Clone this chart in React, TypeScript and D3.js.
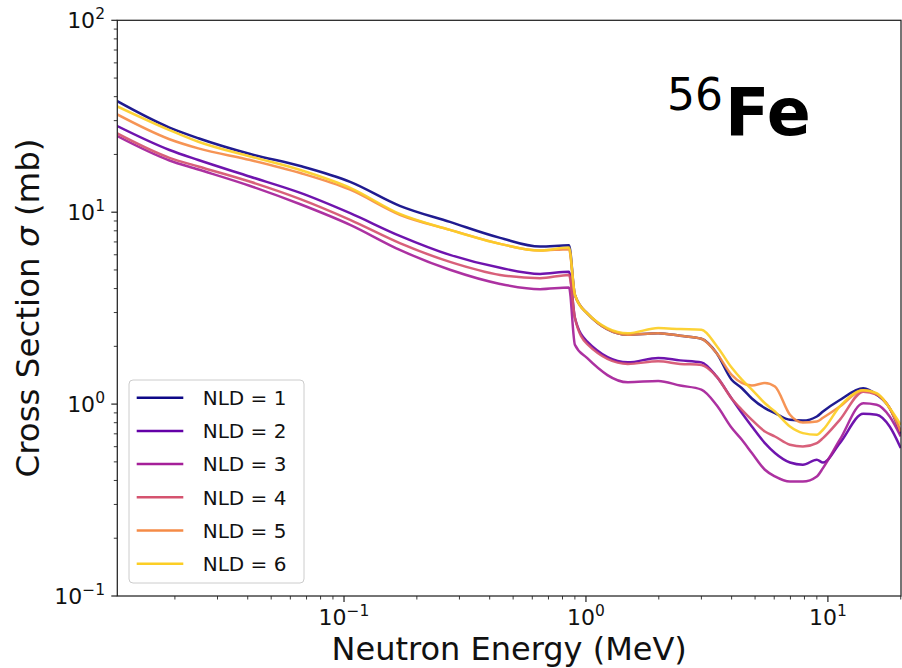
import React from "react";
import * as d3 from "d3";

const energies = [0.0115, 0.019, 0.025, 0.041, 0.066, 0.106, 0.17, 0.274, 0.442, 0.646, 0.851, 0.9, 1.01, 1.49, 1.99, 2.45, 3.0, 3.47, 4.0, 4.41, 4.85, 5.49, 6.04, 6.97, 7.88, 9.0, 9.54, 11.2, 14.0, 15.9, 18.0, 20.0];

const nld1 = [38.0, 27.6, 24.3, 20.1, 17.4, 14.4, 10.8, 8.9, 7.35, 6.62, 6.73, 3.71, 2.98, 2.3, 2.34, 2.27, 2.19, 1.84, 1.34, 1.21, 1.07, 0.953, 0.898, 0.828, 0.821, 0.862, 0.915, 1.05, 1.21, 1.12, 0.953, 0.7];
const nld2 = [28.2, 21.1, 18.7, 15.3, 12.6, 9.88, 7.53, 5.99, 5.13, 4.77, 4.89, 2.82, 2.12, 1.65, 1.74, 1.69, 1.65, 1.39, 1.07, 0.898, 0.764, 0.626, 0.556, 0.496, 0.483, 0.513, 0.496, 0.626, 0.89, 0.88, 0.764, 0.59];
const nld3 = [25.0, 18.6, 16.7, 13.7, 11.0, 8.59, 6.36, 5.01, 4.23, 3.97, 4.05, 2.04, 1.74, 1.3, 1.32, 1.25, 1.19, 0.986, 0.753, 0.652, 0.556, 0.455, 0.42, 0.395, 0.395, 0.42, 0.464, 0.652, 1.01, 0.992, 0.862, 0.678];
const nld4 = [25.8, 19.2, 17.3, 14.4, 11.7, 9.12, 6.9, 5.51, 4.71, 4.53, 4.71, 2.82, 2.06, 1.62, 1.67, 1.62, 1.6, 1.39, 1.07, 0.934, 0.828, 0.72, 0.678, 0.614, 0.601, 0.626, 0.665, 0.828, 1.16, 1.12, 0.953, 0.72];
const nld5 = [32.4, 24.0, 21.5, 18.7, 16.0, 13.1, 9.7, 8.09, 6.84, 6.31, 6.42, 3.71, 2.98, 2.3, 2.34, 2.27, 2.19, 1.84, 1.42, 1.29, 1.25, 1.29, 1.235, 0.88, 0.802, 0.812, 0.849, 0.972, 1.18, 1.13, 0.953, 0.72];
const nld6 = [35.7, 26.8, 23.3, 19.5, 16.6, 13.4, 9.8, 8.09, 6.84, 6.31, 6.54, 3.71, 2.98, 2.34, 2.49, 2.46, 2.44, 2.01, 1.55, 1.34, 1.19, 1.01, 0.915, 0.764, 0.706, 0.692, 0.735, 0.972, 1.18, 1.14, 0.953, 0.78];

const seriesValues = [nld1, nld2, nld3, nld4, nld5, nld6];
const seriesLabels = ["NLD = 1", "NLD = 2", "NLD = 3", "NLD = 4", "NLD = 5", "NLD = 6"];
const colorPositions = [0, 0.18, 0.36, 0.54, 0.72, 0.9];

const xMajorTicks = [0.1, 1, 10];
const xMajorExps = ["\u22121", "0", "1"];
const yMajorTicks = [0.1, 1, 10, 100];
const yMajorExps = ["\u22121", "0", "1", "2"];

const xDomain = [0.01156, 20.05];
const yDomain = [0.1, 100];

const FONT = "'DejaVu Sans', sans-serif";

export default function App() {
  const W = 902, H = 668;
  const left = 117.3, right = 901, top = 20.3, bottom = 596;
  const x = d3.scaleLog().domain(xDomain).range([left, right]);
  const y = d3.scaleLog().domain(yDomain).range([bottom, top]);

  const line = d3
    .line<[number, number]>()
    .x((d) => x(d[0]))
    .y((d) => y(d[1]))
    .curve(d3.curveMonotoneX);

  const xMinor = x.ticks().filter((t) => {
    const m = t / Math.pow(10, Math.floor(Math.log10(t) + 1e-9));
    return Math.abs(m - 1) > 1e-6 && t >= xDomain[0] && t <= xDomain[1];
  });
  const yMinor = y.ticks().filter((t) => {
    const m = t / Math.pow(10, Math.floor(Math.log10(t) + 1e-9));
    return Math.abs(m - 1) > 1e-6;
  });

  const legendX = 129, legendY = 380, legendW = 175, legendH = 203;
  const rowH = 33.2;

  return (
    <div style={{ position: "absolute", left: 0, top: 0 }}>
      <svg width={W} height={H} style={{ display: "block", background: "white" }} fontFamily={FONT}>
        <rect x={0} y={0} width={W} height={H} fill="white" />
        <defs>
          <clipPath id="plotclip">
            <rect x={left} y={top} width={right - left} height={bottom - top} />
          </clipPath>
        </defs>
        <g clipPath="url(#plotclip)">
          {seriesValues.map((vals, i) => (
            <path
              key={i}
              d={line(energies.map((e, j) => [e, vals[j]] as [number, number])) || ""}
              fill="none"
              stroke={d3.interpolatePlasma(colorPositions[i])}
              strokeWidth={2.5}
              strokeLinejoin="round"
              strokeOpacity={0.92}
            />
          ))}
        </g>
        {/* frame */}
        <rect x={left} y={top} width={right - left} height={bottom - top} fill="none" stroke="#222" strokeWidth={1.25} />
        {/* x ticks */}
        {xMajorTicks.map((t, i) => (
          <g key={"xm" + i}>
            <line x1={x(t)} x2={x(t)} y1={bottom} y2={bottom + 6} stroke="#222" strokeWidth={1.2} />
            <text x={x(t)} y={625} textAnchor="middle" fontSize={22} fill="#111">
              10<tspan fontSize={15.5} dy={-9}>{xMajorExps[i]}</tspan>
            </text>
          </g>
        ))}
        {xMinor.map((t, i) => (
          <line key={"xn" + i} x1={x(t)} x2={x(t)} y1={bottom} y2={bottom + 3.5} stroke="#222" strokeWidth={0.9} />
        ))}
        {/* y ticks */}
        {yMajorTicks.map((t, i) => (
          <g key={"ym" + i}>
            <line x1={left} x2={left - 6} y1={y(t)} y2={y(t)} stroke="#222" strokeWidth={1.2} />
            <text x={105} y={y(t) + 8} textAnchor="end" fontSize={22} fill="#111">
              10<tspan fontSize={15.5} dy={-9}>{yMajorExps[i]}</tspan>
            </text>
          </g>
        ))}
        {yMinor.map((t, i) => (
          <line key={"yn" + i} x1={left} x2={left - 3.5} y1={y(t)} y2={y(t)} stroke="#222" strokeWidth={0.9} />
        ))}
        {/* axis labels */}
        <text x={(left + right) / 2} y={659.5} textAnchor="middle" fontSize={32} fill="#111">
          Neutron Energy (MeV)
        </text>
        <text transform={`translate(39,308) rotate(-90)`} textAnchor="middle" fontSize={32.5} fill="#111">
          Cross Section <tspan fontStyle="italic">σ</tspan> (mb)
        </text>
        {/* annotation */}
        <text x={667} y={110} fontSize={44} fill="#000">56</text>
        <text x={725} y={135} fontSize={65} fontWeight="bold" fill="#000">Fe</text>
        {/* legend */}
        <rect x={legendX} y={legendY} width={legendW} height={legendH} rx={4} fill="white" fillOpacity={0.8} stroke="#cccccc" strokeWidth={1} />
        {seriesLabels.map((lab, i) => {
          const cy = 397.7 + i * rowH;
          return (
            <g key={"lg" + i}>
              <line x1={136.7} x2={183.3} y1={cy} y2={cy} stroke={d3.interpolatePlasma(colorPositions[i])} strokeWidth={2.5} />
              <text x={202.7} y={cy + 7.2} fontSize={20} fill="#111">{lab}</text>
            </g>
          );
        })}
      </svg>
    </div>
  );
}
